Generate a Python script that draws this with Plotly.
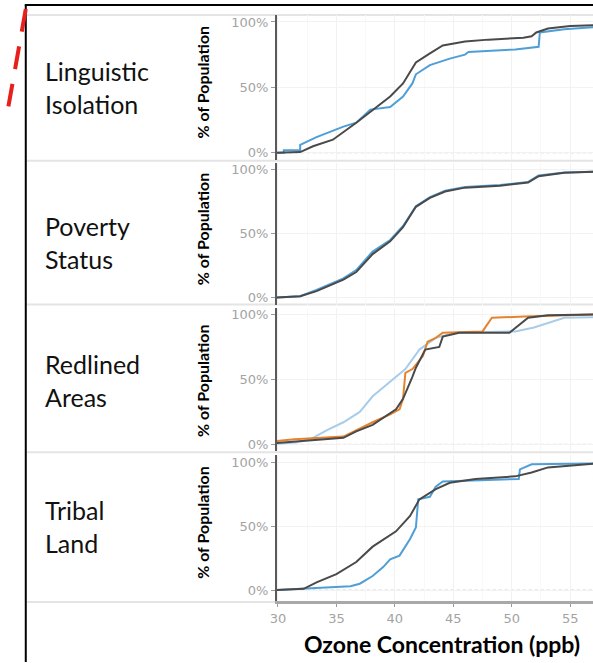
import plotly.graph_objects as go

# ---- data: cumulative share of population by ozone concentration (ppb) ----
panel_names = ["Linguistic<br>Isolation", "Poverty<br>Status", "Redlined<br>Areas", "Tribal<br>Land"]
y_tick_vals = [0, 50, 100]
y_tick_text = ["0%", "50%", "100%"]
x_tick_vals = [30, 35, 40, 45, 50, 55]

# Linguistic isolation
ling_all_x = [29.9, 31.9, 33.0, 34.7, 36.7, 38.1, 39.6, 40.7, 41.8, 43.0, 44.1, 46.0, 48.0, 51.0, 51.7, 52.1, 53.1, 55.0, 57.0]
ling_all_y = [0, 0.5, 5, 10, 23, 33, 43, 53, 69, 76, 82, 85, 86.5, 88, 89, 92, 95, 97, 97.6]
ling_grp_x = [29.9, 30.5, 30.5, 31.9, 31.9, 33.3, 35.6, 36.7, 37.9, 39.6, 40.7, 41.5, 41.8, 43.0, 44.7, 46.0, 46.3, 50.3, 52.3, 52.4, 54.5, 57.0]
ling_grp_y = [0, 0, 2, 2, 6, 12, 20, 23, 33, 35, 43, 53, 60, 67, 72, 75, 77, 79, 81, 92, 94.5, 96]

# Poverty status
pov_all_x = [29.9, 31.9, 33.3, 35.6, 36.7, 38.1, 39.6, 40.7, 41.8, 43.0, 44.3, 46.0, 49.0, 51.4, 52.3, 54.5, 57.0]
pov_all_y = [0, 1, 5, 14, 20, 34, 44, 55, 71, 78, 83, 86, 87.5, 90, 95, 97.6, 98.5]
pov_grp_x = [29.9, 31.9, 33.3, 35.6, 36.7, 38.1, 39.6, 40.7, 41.8, 43.0, 44.3, 46.0, 49.0, 51.4, 52.3, 54.5, 57.0]
pov_grp_y = [0, 1, 6, 15, 21.5, 36, 45, 56, 71.5, 78.5, 83.5, 86.5, 88, 90.5, 95.5, 97.8, 98.5]

# Redlined areas
red_lt_x = [29.9, 31.5, 32.8, 34.2, 35.6, 37.0, 38.1, 39.6, 40.9, 42.1, 43.5, 45.2, 50.3, 51.9, 54.5, 57.0]
red_lt_y = [0.5, 1.5, 4, 11, 17, 25, 37, 48, 58, 73, 82, 86, 87, 90, 97.5, 98]
red_or_x = [29.9, 31.4, 35.6, 36.7, 38.1, 39.6, 40.4, 40.7, 40.9, 41.5, 42.4, 42.8, 43.5, 44.1, 47.5, 48.3, 51.1, 57.0]
red_or_y = [2.5, 4, 6, 11, 17, 23, 27, 35, 55, 58, 68, 79, 82, 86, 87, 97.5, 98.5, 100]
red_all_x = [29.9, 33.0, 35.6, 36.7, 38.1, 40.1, 40.7, 41.5, 41.8, 42.6, 43.8, 44.1, 45.5, 49.8, 51.4, 53.1, 57.0]
red_all_y = [1, 3, 5, 10, 15, 27, 35, 52, 59, 73, 75, 83, 86, 86, 97.5, 99.5, 100]

# Tribal land
trib_all_x = [29.9, 32.2, 33.3, 35.0, 36.7, 38.1, 40.1, 41.3, 42.1, 43.5, 44.7, 46.9, 50.3, 51.7, 53.1, 57.0]
trib_all_y = [0, 1, 6, 12.5, 22, 34, 46, 58, 71, 79, 84, 87, 89, 92, 96, 99]
trib_grp_x = [29.9, 34.7, 36.2, 37.0, 38.1, 39.0, 39.6, 40.4, 41.3, 41.8, 42.0, 43.0, 43.5, 44.1, 50.6, 50.7, 51.7, 57.0]
trib_grp_y = [0, 2, 3, 5, 11, 18, 24, 27, 40, 49, 71, 73, 81, 85, 87, 94.5, 98.5, 99]

# ---- styling ----
W, H = 593, 663
DARK = "#4a4a4a"
BLUE = "#4f9fd6"
LIGHT = "#a9cde9"
ORANGE = "#e5832e"
LABEL_FONT = "Lato"
TICK_FONT = dict(family="DejaVu Sans", size=13, color="#a3a3a3")


def px_x(p):
    return p / W


def px_y(p):
    return 1 - p / H


# panel geometry in pixels: (top edge, 100% line, 0% line, bottom edge)
panels = [
    (15, 22, 153, 160),
    (163, 170, 298, 305),
    (308, 315, 445, 452),
    (456, 463, 591, 602),
]
label_centers = [88, 243, 381, 527]
ylabel_centers = [82, 229, 381, 523]

series = [
    [(ling_grp_x, ling_grp_y, BLUE), (ling_all_x, ling_all_y, DARK)],
    [(pov_grp_x, pov_grp_y, BLUE), (pov_all_x, pov_all_y, DARK)],
    [(red_lt_x, red_lt_y, LIGHT), (red_or_x, red_or_y, ORANGE), (red_all_x, red_all_y, DARK)],
    [(trib_grp_x, trib_grp_y, BLUE), (trib_all_x, trib_all_y, DARK)],
]

fig = go.Figure()
layout = dict(
    width=W, height=H, margin=dict(l=0, r=0, t=0, b=0),
    paper_bgcolor="white", plot_bgcolor="white", showlegend=False,
    xaxis=dict(
        domain=[px_x(273), 1], range=[29.9, 56.95], anchor="y4",
        tickvals=x_tick_vals, ticks="outside", ticklen=3, tickcolor="#999",
        tickfont=dict(family="DejaVu Sans", size=13, color="#a3a3a3"),
        showline=True, linecolor="#a8a8a8", linewidth=3,
        showgrid=True, gridcolor="#f2f2f2", gridwidth=1,
        minor=dict(dtick=2.5, showgrid=True, gridcolor="#f8f8f8"),
        zeroline=False,
    ),
    # strip above the first panel: the tail of the previous panel's axis
    yaxis5=dict(
        domain=[px_y(15), 1], range=[0, 15], anchor="x",
        tickvals=[11], ticktext=["0%"], ticks="outside", ticklen=4,
        tickcolor="#999", tickfont=TICK_FONT,
        showline=True, linecolor="#5a5a5a", linewidth=1.5,
        showgrid=False, zeroline=False,
    ),
)

shapes = []
annotations = []
for i, (top, p100, p0, bot) in enumerate(panels):
    scale = (p0 - p100) / 100.0
    r_lo = -(bot - p0) / scale
    r_hi = 100 + (p100 - top) / scale
    yname = "yaxis" if i == 0 else f"yaxis{i + 1}"
    yref = "y" if i == 0 else f"y{i + 1}"
    layout[yname] = dict(
        domain=[px_y(bot), px_y(top)], range=[r_lo, r_hi], anchor="x",
        tickvals=y_tick_vals, ticktext=y_tick_text, ticks="outside", ticklen=4,
        tickcolor="#999", tickfont=TICK_FONT,
        showline=True, linecolor="#5a5a5a", linewidth=1.5,
        showgrid=True, gridcolor="#f2f2f2", zeroline=False,
    )
    for sx, sy, col in series[i]:
        fig.add_trace(go.Scatter(x=sx, y=sy, mode="lines", xaxis="x", yaxis=yref,
                                 line=dict(color=col, width=2), hoverinfo="skip"))
    # dotted baseline at 0%
    shapes.append(dict(type="line", xref="x domain", yref=yref, x0=0, x1=1, y0=0, y1=0,
                       line=dict(color="#c4c4c4", width=1, dash="dot"), layer="below"))
    # row label
    annotations.append(dict(text=panel_names[i], x=px_x(36), y=px_y(label_centers[i]),
                            xref="paper", yref="paper", xanchor="left", yanchor="middle",
                            align="left", showarrow=False,
                            font=dict(family=LABEL_FONT, size=25, color="#111")))
    annotations.append(dict(text="<b>% of Population</b>", x=px_x(198), y=px_y(ylabel_centers[i]),
                            xref="paper", yref="paper", xanchor="center", yanchor="middle",
                            textangle=-90, showarrow=False,
                            font=dict(family=LABEL_FONT, size=16, color="black")))

annotations.append(dict(text="<b>Ozone Concentration (ppb)</b>", x=px_x(440), y=px_y(645),
                        xref="paper", yref="paper", xanchor="center", yanchor="middle",
                        showarrow=False, font=dict(family=LABEL_FONT, size=23, color="black")))

# row separators
for yp in [15, 161, 305, 453]:
    shapes.append(dict(type="line", xref="paper", yref="paper", x0=px_x(20), x1=1,
                       y0=px_y(yp), y1=px_y(yp), line=dict(color="#e4e4e4", width=2), layer="below"))
shapes.append(dict(type="line", xref="paper", yref="paper", x0=px_x(20), x1=px_x(272),
                   y0=px_y(603), y1=px_y(603), line=dict(color="#e4e4e4", width=2), layer="below"))

# white strip above the frame hides the clipped top label
shapes.append(dict(type="rect", xref="paper", yref="paper", x0=0, x1=1, y0=px_y(5), y1=1,
                   fillcolor="white", line=dict(width=0), layer="above"))
# frame
shapes.append(dict(type="line", xref="paper", yref="paper", x0=px_x(19), x1=px_x(19),
                   y0=px_y(5), y1=0, line=dict(color="black", width=2)))
shapes.append(dict(type="line", xref="paper", yref="paper", x0=px_x(18), x1=1,
                   y0=px_y(5), y1=px_y(5), line=dict(color="black", width=2)))
# red dashed callout line
shapes.append(dict(type="line", xref="paper", yref="paper", x0=px_x(19), x1=px_x(-1),
                   y0=px_y(9), y1=px_y(120),
                   line=dict(color="#e8201c", width=4, dash="23px,15px")))

layout["shapes"] = shapes
layout["annotations"] = annotations
fig.update_layout(**layout)
fig.write_html("out.html")
